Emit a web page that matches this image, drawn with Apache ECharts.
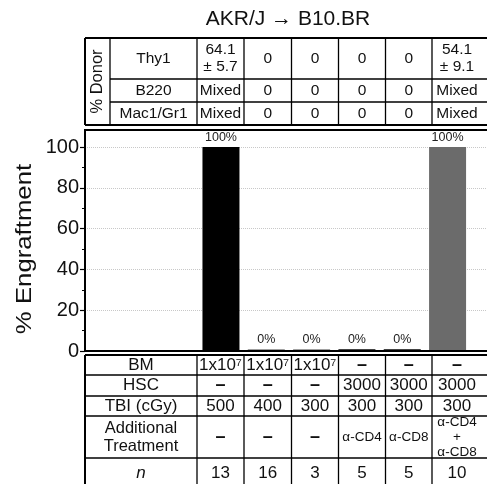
<!DOCTYPE html>
<html>
<head>
<meta charset="utf-8">
<script src="https://cdn.jsdelivr.net/npm/echarts@6/dist/echarts.min.js"></script>
<style>html,body{margin:0;padding:0;background:#fff}#c{width:487px;height:484px}</style>
</head>
<body>
<div id="c"></div>
<script>
// ---- data ----
const chartTitle = 'AKR/J \u2192 B10.BR';
const yAxisName = '% Engraftment';
const groups = [1, 2, 3, 4, 5, 6];
const engraftment = [100, 0, 0, 0, 0, 100];
const yTicks = [0, 20, 40, 60, 80, 100];

const donorHeader = '% Donor';
const donorRowLabels = ['Thy1', 'B220', 'Mac1/Gr1'];
const donorThy1 = ['64.1\n\u00b1 5.7', '0', '0', '0', '0', '54.1\n\u00b1 9.1'];
const donorB220 = ['Mixed', '0', '0', '0', '0', 'Mixed'];
const donorMac = ['Mixed', '0', '0', '0', '0', 'Mixed'];

const condRowLabels = ['BM', 'HSC', 'TBI (cGy)', 'Additional\nTreatment', 'n'];
const condBM = ['1x10\u2077', '1x10\u2077', '1x10\u2077', '\u2013', '\u2013', '\u2013'];
const condHSC = ['\u2013', '\u2013', '\u2013', '3000', '3000', '3000'];
const condTBI = ['500', '400', '300', '300', '300', '300'];
const condTreat = ['\u2013', '\u2013', '\u2013', '\u03b1-CD4', '\u03b1-CD8', '\u03b1-CD4\n+\n\u03b1-CD8'];
const condN = ['13', '16', '3', '5', '5', '10'];

// ---- styles / layout ----
const FONT = "'Liberation Sans', Arial, sans-serif";
const barColors = ['#000000', '#a0a0a0', '#a0a0a0', '#444444', '#444444', '#6b6b6b'];
const colEdges = [197, 244, 291.5, 338.5, 385.5, 432, 482];
const topRows = [38, 79, 102, 125];
const botRows = [355, 375, 396, 416, 458, 492];
const RIGHT = 495;

const els = [];
function hline(x1, x2, y, w) {
  els.push({type: 'line', silent: true, z: 10, shape: {x1: x1, y1: y, x2: x2, y2: y}, style: {stroke: '#000', lineWidth: w}});
}
function vline(x, y1, y2, w) {
  els.push({type: 'line', silent: true, z: 10, shape: {x1: x, y1: y1, x2: x, y2: y2}, style: {stroke: '#000', lineWidth: w}});
}
function txt(x, y, text, size, extra) {
  extra = extra || {};
  els.push({type: 'text', silent: true, z: 11, x: x, y: y, rotation: extra.rot || 0,
    scaleX: extra.sx || 1,
    style: {text: text, x: 0, y: 0, align: 'center', verticalAlign: 'middle', fill: '#111',
      fontSize: size, fontFamily: FONT, lineHeight: extra.lh || Math.round(size * 1.15),
      fontStyle: extra.italic ? 'italic' : 'normal', fontWeight: extra.bold ? 'bold' : 'normal'}});
}
function cellText(x, y, s, size) {
  if (s === '\u2013') txt(x, y, s, 18, {bold: true});
  else if (s.indexOf('\u03b1') >= 0) txt(x, y, s, 13.5, {lh: 15});
  else txt(x, y, s, size, {lh: 18});
}

// title
txt(288, 19, chartTitle, 21);
// y axis name
txt(25, 249, yAxisName, 22, {rot: Math.PI / 2, sx: 1.17});

// top table
hline(85, RIGHT, topRows[0], 2);
for (let i = 1; i < topRows.length - 1; i++) hline(110, RIGHT, topRows[i], 1.3);
hline(85, RIGHT, topRows[topRows.length - 1], 2);
vline(85, topRows[0], topRows[3], 2);
vline(110, topRows[0], topRows[3], 1.3);
for (let i = 0; i < colEdges.length - 1; i++) vline(colEdges[i], topRows[0], topRows[3], 1.3);
txt(97.5, (topRows[0] + topRows[3]) / 2, donorHeader, 16.5, {rot: Math.PI / 2});
const donorData = [donorThy1, donorB220, donorMac];
donorRowLabels.forEach(function (lab, r) {
  const yc = (topRows[r] + topRows[r + 1]) / 2;
  txt((110 + colEdges[0]) / 2, yc, lab, 15.5);
  donorData[r].forEach(function (v, c) {
    txt((colEdges[c] + colEdges[c + 1]) / 2, yc, v, 15.5, {lh: 17});
  });
});

// bottom table
hline(85, RIGHT, botRows[0], 2);
for (let i = 1; i < botRows.length - 1; i++) hline(85, RIGHT, botRows[i], 1.3);
vline(85, botRows[0], botRows[botRows.length - 1], 2);
for (let i = 0; i < colEdges.length - 1; i++) vline(colEdges[i], botRows[0], botRows[botRows.length - 1], 1.3);
const condData = [condBM, condHSC, condTBI, condTreat, condN];
condRowLabels.forEach(function (lab, r) {
  const yc = (botRows[r] + botRows[r + 1]) / 2 - (r === 4 ? 1.5 : 0);
  txt((85 + colEdges[0]) / 2, yc, lab, r === 3 ? 16.5 : 17, {lh: 18, italic: lab === 'n'});
  condData[r].forEach(function (v, c) {
    cellText((colEdges[c] + colEdges[c + 1]) / 2, yc, v, 17);
  });
});

// plot frame
els.push({type: 'rect', silent: true, z: 9, shape: {x: 85, y: 130, width: 430, height: 221},
  style: {fill: 'none', stroke: '#000', lineWidth: 2}});

const chart = echarts.init(document.getElementById('c'), null, {renderer: 'canvas'});
chart.setOption({
  animation: false,
  backgroundColor: '#fff',
  grid: {left: 85, right: 0, top: 147, height: 204, containLabel: false},
  xAxis: {type: 'value', min: -2, max: 6.87, show: false},
  yAxis: {
    type: 'value', min: 0, max: 100, interval: 20,
    axisLine: {show: true, onZero: false, lineStyle: {color: '#000', width: 2}},
    axisTick: {show: true, length: 5, lineStyle: {color: '#000', width: 1.2}},
    minorTick: {show: true, splitNumber: 2, length: 3, lineStyle: {color: '#000', width: 1}},
    axisLabel: {fontSize: 20, color: '#111', fontFamily: FONT, margin: 6,
      formatter: function (v) { return yTicks.indexOf(v) >= 0 ? String(v) : ''; }},
    splitLine: {show: true, lineStyle: {type: 'dotted', color: '#c8c8c8', width: 1}}
  },
  series: [{
    type: 'bar',
    barWidth: 37,
    barMinHeight: 2,
    data: groups.map(function (g, i) {
      return {value: [g, engraftment[i]], itemStyle: {color: barColors[i]}};
    }),
    label: {show: true, position: 'top', distance: 3, fontSize: 12.5, color: '#222', fontFamily: FONT,
      formatter: function (p) { return p.value[1] + '%'; }}
  }],
  graphic: els
});
</script>
</body>
</html>
